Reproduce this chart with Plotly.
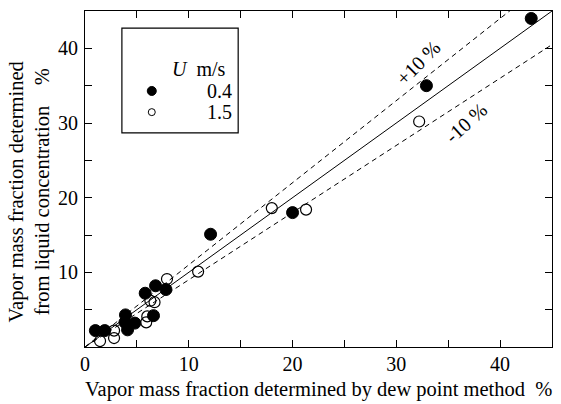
import plotly.graph_objects as go

# ---- data ----
u04_x = [1.0, 1.9, 3.9, 3.85, 4.1, 4.8, 5.8, 6.8, 7.8, 6.6, 12.1, 20.0, 32.9, 43.0]
u04_y = [2.2, 2.2, 4.3, 3.3, 2.3, 3.2, 7.2, 8.2, 7.7, 4.2, 15.1, 18.0, 35.0, 44.0]

u15_x = [1.45, 2.8, 2.8, 6.0, 5.9, 6.3, 6.7, 7.9, 10.9, 18.0, 21.3, 32.2]
u15_y = [0.8, 2.2, 1.2, 4.1, 3.3, 6.2, 6.0, 9.1, 10.1, 18.6, 18.4, 30.2]

ref_x = [0, 45]
ratios = [1.0, 1.1, 0.9]
tick_vals = [0, 5, 10, 15, 20, 25, 30, 35, 40, 45]
x_tick_text = ["0", "", "10", "", "20", "", "30", "", "40", ""]
y_tick_text = ["", "", "10", "", "20", "", "30", "", "40", ""]

FONT = "Liberation Serif"
FS = 20

fig = go.Figure()

# reference lines y = x, +10 %, -10 %
for r in ratios:
    fig.add_trace(go.Scatter(
        x=ref_x, y=[r * v for v in ref_x], mode="lines",
        line=dict(color="black", width=1, dash="solid" if r == 1.0 else "5px,4px"),
        showlegend=False, hoverinfo="skip", cliponaxis=True))

fig.add_trace(go.Scatter(
    x=u04_x, y=u04_y, mode="markers", name="0.4",
    marker=dict(symbol="circle", size=12, color="black", line=dict(color="black", width=1)),
    showlegend=False))
fig.add_trace(go.Scatter(
    x=u15_x, y=u15_y, mode="markers", name="1.5",
    marker=dict(symbol="circle-open", size=11, color="black", line=dict(color="black", width=1.2)),
    showlegend=False))

axis_common = dict(
    range=[0, 45], tickvals=tick_vals, ticks="inside", ticklen=7, tickwidth=1,
    tickcolor="black", showline=True, linecolor="black", linewidth=1.2,
    mirror="allticks", showgrid=False, zeroline=False,
    tickfont=dict(family=FONT, size=FS, color="black"))

fig.update_xaxes(**axis_common, ticktext=x_tick_text, ticklabelstandoff=-1)
fig.update_yaxes(**axis_common, ticktext=y_tick_text, ticklabelstandoff=2)

ann = []
# axis titles
ann.append(dict(
    text="Vapor mass fraction determined by dew point method\u00a0\u00a0%",
    xref="paper", yref="paper", x=0.5, y=0, yshift=-42, showarrow=False,
    xanchor="center", yanchor="middle",
    font=dict(family=FONT, size=20.5, color="black")))
ann.append(dict(
    text="Vapor mass fraction determined<br>from liquid concentration\u00a0\u00a0\u00a0\u00a0%",
    xref="paper", yref="paper", x=0, xshift=-55, y=0.46, showarrow=False,
    textangle=-90, xanchor="center", yanchor="middle",
    font=dict(family=FONT, size=20.5, color="black")))
# line labels
ann.append(dict(text="+10 %", x=32.1, y=38.0, xref="x", yref="y", showarrow=False,
                textangle=-45, font=dict(family=FONT, size=FS, color="black")))
ann.append(dict(text="-10 %", x=36.7, y=30.0, xref="x", yref="y", showarrow=False,
                textangle=-42, font=dict(family=FONT, size=FS, color="black")))
# legend texts
for txt, lx, ly in [("<i>U</i>\u00a0\u00a0m/s", 0.244, 0.827),
                    ("0.4", 0.289, 0.762),
                    ("1.5", 0.289, 0.699)]:
    ann.append(dict(text=txt, xref="paper", yref="paper", x=lx, y=ly,
                    xanchor="center", yanchor="middle", showarrow=False,
                    font=dict(family=FONT, size=FS, color="black")))

shapes = [
    dict(type="rect", xref="paper", yref="paper", x0=0.079, x1=0.328, y0=0.637, y1=0.949,
         line=dict(color="black", width=1.2), fillcolor="white", layer="above"),
    dict(type="circle", xref="paper", yref="paper", xsizemode="pixel", ysizemode="pixel",
         xanchor=0.143, yanchor=0.762, x0=-4.5, x1=4.5, y0=-4.5, y1=4.5,
         fillcolor="black", line=dict(color="black", width=1)),
    dict(type="circle", xref="paper", yref="paper", xsizemode="pixel", ysizemode="pixel",
         xanchor=0.143, yanchor=0.699, x0=-3.5, x1=3.5, y0=-3.5, y1=3.5,
         fillcolor="white", line=dict(color="black", width=1)),
]

fig.update_layout(
    width=561, height=404,
    margin=dict(l=85, r=9, t=11, b=57),
    paper_bgcolor="white", plot_bgcolor="white",
    annotations=ann, shapes=shapes, showlegend=False,
    font=dict(family=FONT, size=FS, color="black"))

fig.write_html("out.html")
